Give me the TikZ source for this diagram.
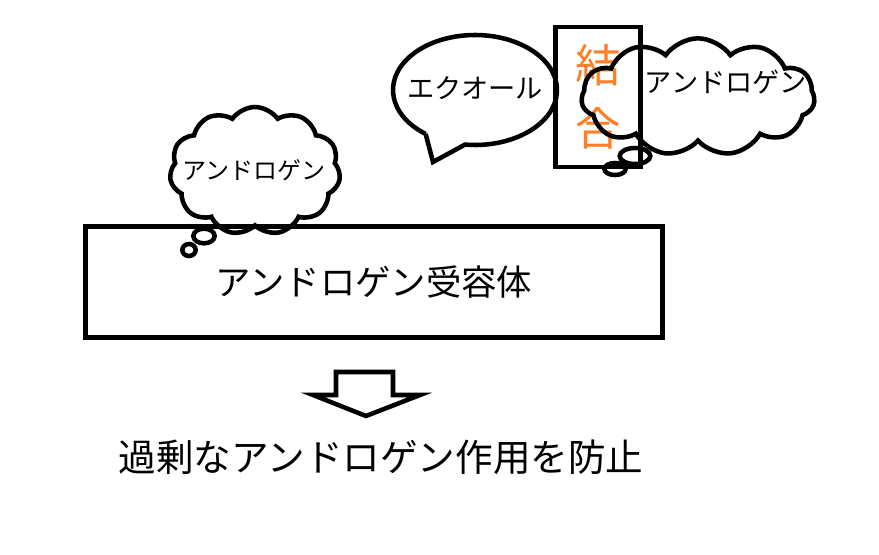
\documentclass[tikz,border=0pt]{standalone}
\usepackage{fontspec}
\setmainfont{Noto Sans CJK JP}
\usetikzlibrary{
    shapes,
    shapes.symbols,
    calc,
    positioning
}
\definecolor{ketsuorange}{RGB}{255,127,39}
\tikzset{
    heavy/.style={line width=3.4pt},
    puffcloud/.style={cloud, draw, heavy, cloud puffs=11, cloud puff arc=110, cloud ignores aspect, inner sep=0pt},
    bubble/.style={ellipse, draw, heavy, inner sep=0pt}
}

\begin{document}
\begin{tikzpicture}[x=0.75pt, y=-0.75pt]
    \useasboundingbox (0, 0) rectangle (879, 554);
    % receptor box
    \node[draw, heavy, minimum width=433pt, minimum height=83pt,
          font=\fontsize{26.5}{30}\selectfont] (rec) at (374, 282) {アンドロゲン受容体};
    % left thought cloud
    \node[puffcloud, minimum width=128pt, minimum height=96pt] (lcloud) at (255, 171) {};
    \node[font=\fontsize{18}{20}\selectfont] (ltext) at (254, 170) {アンドロゲン};
    \node[bubble, minimum width=16pt, minimum height=11pt] (lb1) at (204, 236) {};
    \node[bubble, minimum width=10pt, minimum height=9pt] (lb2) at (189, 250) {};
    % speech bubble
    \draw[heavy] (475, 90) ++(127:82 and 55) coordinate (tailA)
        arc[start angle=127, end angle=457, x radius=82, y radius=55] coordinate (tailB)
        -- (433, 162) coordinate (tailtip) -- (tailA);
    \node[font=\fontsize{20.4}{22}\selectfont] (etext) at (475, 88) {エクオール};
    % binding box
    \node[draw, heavy, minimum width=64pt, minimum height=105pt, align=center,
          text=ketsuorange, inner sep=0pt, font=\fontsize{34}{47}\selectfont] (bind) at (598, 97)
        {結\\合};
    % right thought cloud
    \node[puffcloud, minimum width=175pt, minimum height=88pt] (rcloud) at (698, 97) {};
    \node[font=\fontsize{20.4}{22}\selectfont] (rtext) at (726, 82) {アンドロゲン};
    \node[bubble, minimum width=23pt, minimum height=12pt] (rb1) at (635, 156) {};
    \node[bubble, minimum width=16pt, minimum height=9pt] (rb2) at (615, 169) {};
    % result arrow
    \draw[heavy, line join=miter] (336, 372) -- (393, 372) -- (393, 395) -- (420, 395)
        -- (366, 416) -- (313, 395) -- (336, 395) -- cycle;
    \node[font=\fontsize{28.2}{32}\selectfont] (result) at (381, 457) {過剰なアンドロゲン作用を防止};
\end{tikzpicture}
\end{document}
